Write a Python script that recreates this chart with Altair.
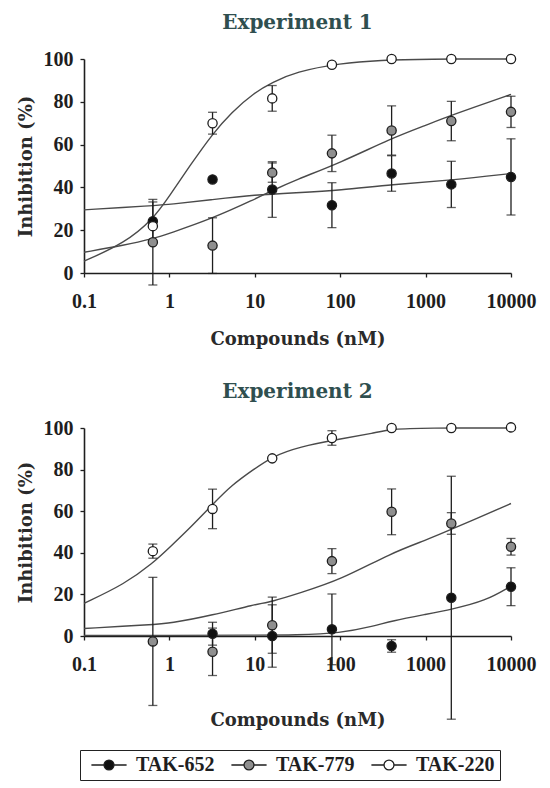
import altair as alt
import pandas as pd

conc = [0.64, 3.2, 16, 80, 400, 2000, 10000]
compounds = ["TAK-652", "TAK-779", "TAK-220"]
experiments = ["Experiment 1", "Experiment 2"]

# ---- Experiment 1: means and error half-widths ----
e1_tak652 = [24.2, 43.7, 39.0, 31.7, 46.5, 41.4, 44.9]
e1_tak652_err = [9.0, 0, 13.0, 10.5, 8.3, 10.8, 17.8]
e1_tak779 = [14.4, 12.8, 46.9, 55.9, 66.6, 71.0, 75.3]
e1_tak779_err = [20.0, 13.0, 4.5, 8.5, 11.5, 9.2, 7.3]
e1_tak220 = [21.9, 70.0, 81.6, 97.3, 100, 100, 100]
e1_tak220_err = [0, 5.1, 6.0, 0, 0, 0, 0]

# ---- Experiment 2 ----
e2_tak652 = [None, 1.1, 0.0, 3.2, -4.8, 18.4, 23.7]
e2_tak652_err = [0, 5.5, 15.0, 17.0, 3.0, 58.4, 9.1]
e2_tak779 = [-2.6, -7.6, 5.2, 36.0, 59.7, 54.1, 42.9]
e2_tak779_err = [30.8, 11.4, 13.5, 6.0, 11.0, 5.2, 4.0]
e2_tak220 = [40.8, 61.1, 85.4, 95.2, 100, 100, 100.3]
e2_tak220_err = [3.4, 9.5, 0, 3.5, 0, 0, 0]

# ---- fitted curves ----
e1_c652_x = [0.1, 0.64, 1, 3.2, 10, 30, 100, 400, 2000, 10000]
e1_c652_y = [29.5, 31.5, 32, 34.3, 36.5, 37.5, 38.6, 41.4, 43.3, 46.5]
e1_c779_x = [0.1, 0.3, 0.64, 1, 3.2, 10, 16, 30, 100, 400, 1000, 2000, 10000]
e1_c779_y = [9.7, 13.0, 16.0, 18.5, 25.5, 34.5, 38.5, 43.5, 51.5, 63, 69, 73.7, 83.5]
e1_c220_x = [0.1, 0.3, 0.64, 1, 1.8, 3.2, 5.3, 10, 16, 30, 100, 300, 1000, 10000]
e1_c220_y = [5.5, 14, 25, 36, 51, 65, 75, 84.5, 89, 94, 98, 99.5, 100, 100]

e2_c652_x = [0.1, 1, 10, 30, 100, 250, 400, 1000, 2000, 5000, 10000]
e2_c652_y = [0.3, 0.3, 0.4, 0.5, 1.3, 4.8, 7.2, 10.4, 12.8, 16.8, 24]
e2_c779_x = [0.1, 0.64, 1, 3.2, 10, 16, 33, 100, 400, 1000, 2000, 10000]
e2_c779_y = [3.6, 5.5, 6, 10, 15.2, 16.5, 20.6, 26.9, 40, 46, 51.2, 63.7]
e2_c220_x = [0.1, 0.3, 0.64, 1, 1.8, 3.2, 5.3, 10, 16, 33, 100, 250, 400, 1000, 10000]
e2_c220_y = [15.7, 25, 35, 42.5, 52.5, 63.2, 72.4, 80.5, 86.2, 91, 94.7, 97.6, 99.5, 100, 100]

points_src = {
    "Experiment 1": [(e1_tak652, e1_tak652_err), (e1_tak779, e1_tak779_err), (e1_tak220, e1_tak220_err)],
    "Experiment 2": [(e2_tak652, e2_tak652_err), (e2_tak779, e2_tak779_err), (e2_tak220, e2_tak220_err)],
}
curves_src = {
    "Experiment 1": [(e1_c652_x, e1_c652_y), (e1_c779_x, e1_c779_y), (e1_c220_x, e1_c220_y)],
    "Experiment 2": [(e2_c652_x, e2_c652_y), (e2_c779_x, e2_c779_y), (e2_c220_x, e2_c220_y)],
}

prow, crow = [], []
for exp in experiments:
    for k, comp in enumerate(compounds):
        vals, errs = points_src[exp][k]
        for c, v, e in zip(conc, vals, errs):
            if v is None:
                continue
            prow.append({"exp": exp, "compound": comp, "ord": k, "conc": c, "val": v,
                         "err": e, "lo": v - e, "hi": v + e})
        cx, cy = curves_src[exp][k]
        for x, y in zip(cx, cy):
            crow.append({"exp": exp, "compound": comp, "conc": x, "val": y})
pts = pd.DataFrame(prow)
crv = pd.DataFrame(crow)

LINE = "#4a4a4a"
INK = "#1e1e1e"

# line-with-circle legend glyph (unit square scaled by symbol size)
legend_path = ("M-2.2,0H-0.62M0.62,0H2.2M-0.62,0A0.62,0.62,0,1,1,0.62,0"
               "A0.62,0.62,0,1,1,-0.62,0Z")


def panel(exp, height, tpad):
    p = pts[pts["exp"] == exp]
    e = p[p["err"] > 0]
    c = crv[crv["exp"] == exp]
    xenc = alt.X("conc:Q", scale=alt.Scale(type="log", domain=[0.1, 10000]),
                 axis=alt.Axis(values=[0.1, 1, 10, 100, 1000, 10000], format="~g",
                               title="Compounds (nM)", titlePadding=tpad))
    yax = alt.Axis(values=[0, 20, 40, 60, 80, 100], title="Inhibition (%)")
    yscale = alt.Scale(domain=[0, 100])
    lines = alt.Chart(c).mark_line(color=LINE, strokeWidth=1.4, interpolate="basis").encode(
        x=xenc, y=alt.Y("val:Q", scale=yscale, axis=yax), detail="compound:N")
    rules = alt.Chart(e).mark_rule(color=INK, strokeWidth=1.3).encode(
        x=xenc, y=alt.Y("lo:Q", scale=yscale, axis=yax), y2="hi:Q")
    cap_lo = alt.Chart(e).mark_tick(orient="horizontal", size=9, thickness=1.3, color=INK).encode(
        x=xenc, y=alt.Y("lo:Q", scale=yscale, axis=yax))
    cap_hi = alt.Chart(e).mark_tick(orient="horizontal", size=9, thickness=1.3, color=INK).encode(
        x=xenc, y=alt.Y("hi:Q", scale=yscale, axis=yax))
    dots = alt.Chart(p).mark_point(shape="circle", filled=True, size=85, stroke=INK,
                                   strokeWidth=1.3, opacity=1).encode(
        x=xenc, y=alt.Y("val:Q", scale=yscale, axis=yax),
        fill=alt.Fill("compound:N",
                      scale=alt.Scale(domain=compounds, range=["#111111", "#8f8f8f", "#ffffff"]),
                      legend=alt.Legend(title=" ", titleOrient="left", titleFontSize=8,
                                        titlePadding=14,
                                        orient="none", direction="horizontal",
                                        columns=3, legendX=-4, legendY=691,
                                        symbolType=legend_path, symbolSize=256,
                                        symbolStrokeColor=INK, symbolStrokeWidth=1.3,
                                        labelFont="Liberation Serif", labelFontSize=20,
                                        labelFontWeight="bold", labelColor=INK,
                                        labelOffset=17, columnPadding=13,
                                        strokeColor="#222", padding=5)),
        order=alt.Order("ord:Q"))
    return alt.layer(lines, rules, cap_lo, cap_hi, dots).properties(
        width=427, height=height,
        title=alt.TitleParams(exp, anchor="middle", frame="group"))


chart = alt.vconcat(panel("Experiment 1", 214, 19), panel("Experiment 2", 208, 37),
                    spacing=34).resolve_scale(fill="shared").properties(
    padding={"left": 9, "top": 5, "right": 2, "bottom": 0}).configure_view(
    stroke=None).configure_axis(
    grid=False, domainColor=INK, domainWidth=1.6, tickColor=INK, tickWidth=1.3, tickSize=4,
    labelFont="Liberation Serif", labelFontSize=20, labelFontWeight="bold", labelColor=INK,
    labelPadding=6, titleFont="DejaVu Serif", titleFontSize=18, titleFontWeight="bold",
    titleColor="#2a2a2a").configure_axisY(titlePadding=8, labelPadding=7).configure_axisX(
    labelPadding=14, labelFlush=False).configure_title(
    font="DejaVu Serif", fontSize=20, fontWeight="bold", color="#2f4f4f", offset=16)

chart.save("out.html", embed_options={"renderer": "svg", "actions": False})
